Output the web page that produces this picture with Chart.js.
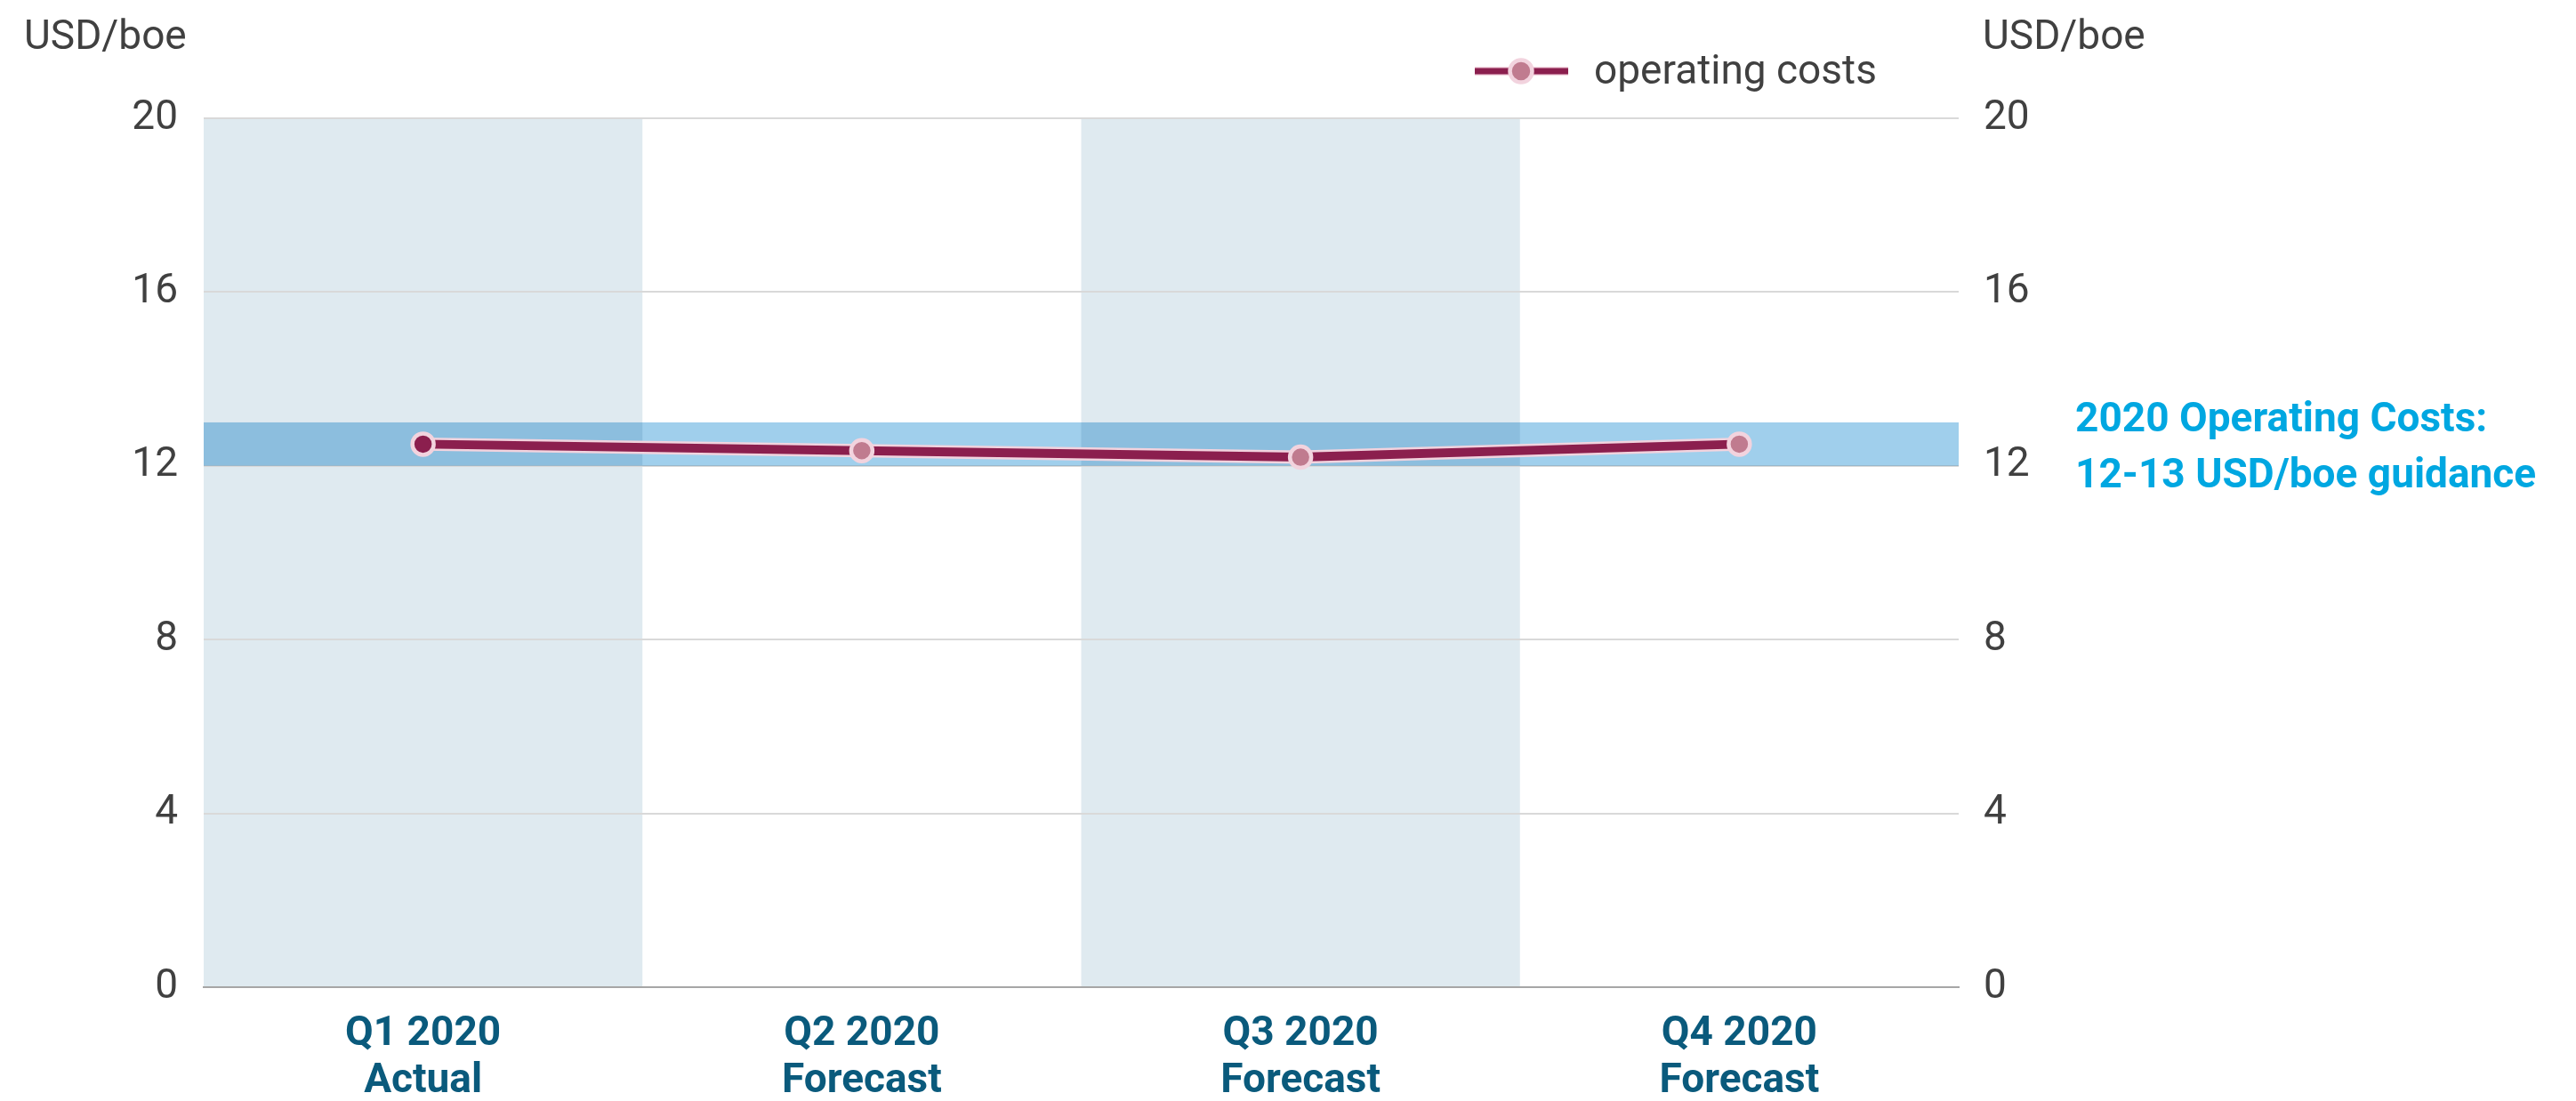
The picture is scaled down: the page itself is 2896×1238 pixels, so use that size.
<!DOCTYPE html>
<html>
<head>
<meta charset="utf-8">
<script src="https://cdn.jsdelivr.net/npm/chart.js@4"></script>
<style>
  html, body { margin: 0; padding: 0; background: #ffffff; }
  #wrap { width: 2896px; height: 1238px; position: relative; }
</style>
</head>
<body>
<div id="wrap"><canvas id="c" width="2896" height="1238"></canvas></div>
<script>
// ---- data ----
const categories = [["Q1 2020", "Actual"], ["Q2 2020", "Forecast"], ["Q3 2020", "Forecast"], ["Q4 2020", "Forecast"]];
const operatingCosts = [12.5, 12.35, 12.2, 12.5];
const seriesLabel = "operating costs";
const shadedCategories = [0, 2];
const guidanceRange = [12, 13];
const guidanceText = ["2020 Operating Costs:", "12-13 USD/boe guidance"];
const yTicks = [0, 4, 8, 12, 16, 20];
const unitLabel = "USD/boe";

const FONT = "Roboto, 'Liberation Sans', sans-serif";
const TICK_COLOR = "#404040";
const MAROON = "#8b1f4e";
const PINK = "#f2d3de";
const MAUVE = "#c07b8f";

const decorPlugin = {
  id: 'decor',
  beforeDraw(chart) {
    const ctx = chart.ctx, ca = chart.chartArea, xs = chart.scales.x;
    const w = xs.getPixelForValue(1) - xs.getPixelForValue(0);
    ctx.save();
    ctx.fillStyle = "#dfeaf0";
    shadedCategories.forEach(i => {
      const cx = xs.getPixelForValue(i);
      ctx.fillRect(cx - w / 2, ca.top, w, ca.bottom - ca.top);
    });
    ctx.restore();
  },
  beforeDatasetsDraw(chart) {
    const ctx = chart.ctx, ca = chart.chartArea, ys = chart.scales.y;
    const y1 = ys.getPixelForValue(guidanceRange[1]);
    const y0 = ys.getPixelForValue(guidanceRange[0]);
    ctx.save();
    ctx.globalCompositeOperation = 'multiply';
    ctx.fillStyle = "#a0cfec";
    ctx.fillRect(ca.left, y1, ca.right - ca.left, y0 - y1);
    ctx.restore();
  },
  afterDraw(chart) {
    const ctx = chart.ctx, ca = chart.chartArea;
    ctx.save();
    // unit labels
    ctx.font = "46px " + FONT;
    ctx.fillStyle = TICK_COLOR;
    ctx.textBaseline = 'alphabetic';
    ctx.textAlign = 'left';
    ctx.fillText(unitLabel, 27, 55);
    ctx.fillText(unitLabel, ca.right + 27, 55);
    // legend
    const ly = 80;
    ctx.lineCap = 'butt';
    ctx.strokeStyle = PINK; ctx.lineWidth = 10;
    ctx.beginPath(); ctx.moveTo(1658, ly); ctx.lineTo(1763, ly); ctx.stroke();
    ctx.strokeStyle = MAROON; ctx.lineWidth = 7;
    ctx.beginPath(); ctx.moveTo(1658, ly); ctx.lineTo(1763, ly); ctx.stroke();
    ctx.beginPath(); ctx.arc(1710, ly, 12.5, 0, Math.PI * 2);
    ctx.fillStyle = MAUVE; ctx.fill();
    ctx.lineWidth = 4.5; ctx.strokeStyle = PINK; ctx.stroke();
    ctx.fillStyle = TICK_COLOR;
    ctx.font = "46px " + FONT;
    ctx.fillText(seriesLabel, 1792, 94);
    // guidance annotation
    ctx.fillStyle = "#00a7e1";
    ctx.font = "bold 46px " + FONT;
    ctx.fillText(guidanceText[0], 2333, 485);
    ctx.fillText(guidanceText[1], 2333, 548);
    ctx.restore();
  }
};

new Chart(document.getElementById('c'), {
  type: 'line',
  data: {
    labels: categories,
    datasets: [
      {
        label: seriesLabel,
        data: operatingCosts,
        yAxisID: 'y',
        order: 0,
        borderColor: MAROON,
        borderWidth: 10,
        tension: 0,
        fill: false,
        pointRadius: 12,
        pointBorderWidth: 4.5,
        pointBorderColor: PINK,
        pointBackgroundColor: operatingCosts.map((v, i) => i === 0 ? MAROON : MAUVE)
      },
      {
        label: seriesLabel + " outline",
        data: operatingCosts,
        yAxisID: 'y',
        order: 1,
        borderColor: PINK,
        borderWidth: 15,
        tension: 0,
        fill: false,
        pointRadius: 0
      }
    ]
  },
  options: {
    responsive: false,
    animation: false,
    devicePixelRatio: 1,
    layout: { padding: { top: 133, left: 0, right: 0, bottom: 0 } },
    plugins: {
      legend: { display: false },
      title: { display: false },
      tooltip: { enabled: false }
    },
    scales: {
      x: {
        type: 'category',
        offset: true,
        grid: { display: false, drawTicks: false },
        border: { display: true, color: '#a6a6a6', width: 2 },
        ticks: {
          color: '#0a5a7c',
          font: { family: FONT, size: 46, weight: 'bold', lineHeight: 1.15 },
          padding: 27,
          maxRotation: 0,
          autoSkip: false
        },
        afterFit(s) { s.height = 128; }
      },
      y: {
        position: 'left',
        min: 0, max: 20,
        afterBuildTicks(s) { s.ticks = yTicks.map(v => ({ value: v })); },
        grid: { color: '#d9d9d9', lineWidth: 2, drawTicks: false },
        border: { display: false },
        ticks: {
          color: TICK_COLOR,
          font: { family: FONT, size: 46 },
          padding: 29
        },
        afterFit(s) { s.width = 229; }
      },
      y2: {
        position: 'right',
        min: 0, max: 20,
        afterBuildTicks(s) { s.ticks = yTicks.map(v => ({ value: v })); },
        grid: { display: false, drawTicks: false },
        border: { display: false },
        ticks: {
          color: TICK_COLOR,
          font: { family: FONT, size: 46 },
          padding: 28
        },
        afterFit(s) { s.width = 694; }
      }
    }
  },
  plugins: [decorPlugin]
});
</script>
</body>
</html>
